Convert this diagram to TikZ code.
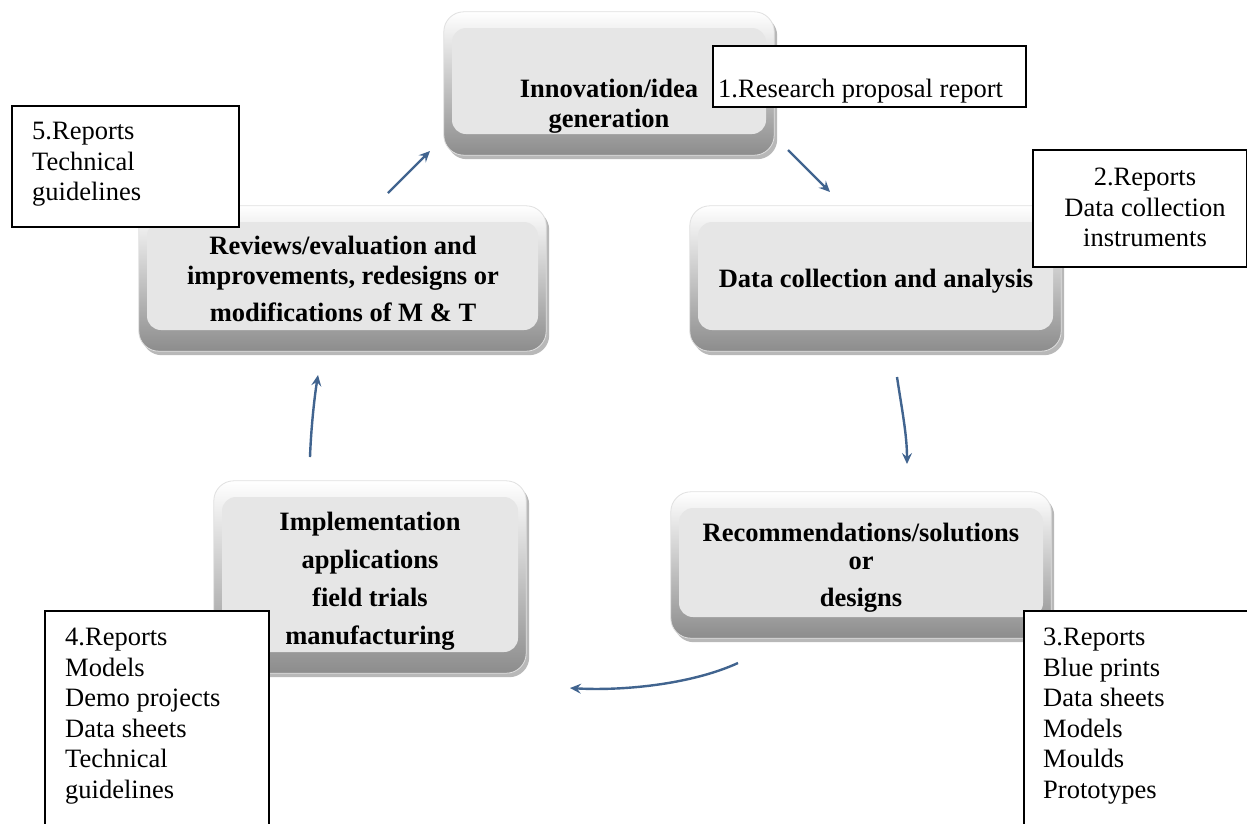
\documentclass[tikz,border=0pt]{standalone}
\usepackage{fontspec}
\setmainfont{Liberation Serif}
\usetikzlibrary{arrows.meta,fit,backgrounds}
\definecolor{arrowblue}{HTML}{41648F}
\definecolor{facegray}{HTML}{E6E6E6}
\newcommand{\rimfor}[1]{%
  \begin{pgfonlayer}{background}
    \fill[black!28, rounded corners=20pt] ([shift={(-5,-12)}]#1.north west) rectangle ([shift={(11,25)}]#1.south east);
    \shade[rounded corners=20pt, top color=white, bottom color=black!45, draw=black!12, line width=0.8pt]
      ([shift={(-8,-16)}]#1.north west) rectangle ([shift={(8,21)}]#1.south east);
  \end{pgfonlayer}}
\begin{document}
\begin{tikzpicture}[x=1pt,y=-1pt,
  face/.style={inner sep=0pt, rounded corners=14pt, fill=facegray},
  boxtxt/.style={font=\fontsize{26.5}{30}\selectfont\bfseries, align=center, inner sep=0pt},
  lbltxt/.style={font=\fontsize{26.5}{30.5}\selectfont, align=left, inner sep=0pt},
  lblbox/.style={draw=black, line width=1.6pt, fill=white, anchor=north west, inner sep=0pt},
  flow/.style={draw=arrowblue, line width=2.4pt, -{Stealth[length=11pt,width=10pt,inset=4pt]}}
]
\useasboundingbox (0,0) rectangle (1247,823);
\begin{pgfonlayer}{background}
  \fill[white] (0,0) rectangle (1247,823);
\end{pgfonlayer}
\clip (0,0) rectangle (1247,823);

% gray process boxes
\node[face, fit={(452,28) (766,134)}] (inn) {};
\rimfor{inn}
\node[face, fit={(147,222) (538,330)}] (rev) {};
\rimfor{rev}
\node[face, fit={(698,222) (1053,330)}] (dat) {};
\rimfor{dat}
\node[face, fit={(679,508) (1043,617)}] (rec) {};
\rimfor{rec}
\node[face, fit={(222,497) (518,652)}] (imp) {};
\rimfor{imp}

% box texts
\node[boxtxt, anchor=north] (innT) at (609,79) {Innovation/idea\\generation};
\node[boxtxt, anchor=north] (revT) at (343,236) {Reviews/evaluation and\\improvements, redesigns or\\[7pt]modifications of M \& T};
\node[boxtxt, anchor=base] (datT) at (876,287) {Data collection and analysis};
\node[boxtxt, anchor=north] (recT) at (861,523) {Recommendations/solutions\\[-2pt]or\\[7pt]designs};
\node[boxtxt, anchor=north, font=\fontsize{26.5}{38}\selectfont\bfseries] (impT) at (370,512) {Implementation\\applications\\field trials\\manufacturing};

% arrows
\coordinate (a1s) at (388,193); \coordinate (a1e) at (430,151);
\coordinate (a2s) at (788,150); \coordinate (a2e) at (830,192);
\coordinate (a3s) at (897,377); \coordinate (a3e) at (907,464);
\coordinate (a4s) at (738,663); \coordinate (a4e) at (570,688);
\coordinate (a5s) at (310,457); \coordinate (a5e) at (318,375);
\draw[flow] (a1s) -- (a1e);
\draw[flow] (a2s) -- (a2e);
\draw[flow] (a3s) .. controls (902,410) and (907,435) .. (a3e);
\draw[flow] (a4s) .. controls (690,685) and (620,691) .. (a4e);
\draw[flow] (a5s) .. controls (311,430) and (314,400) .. (a5e);

% output labels
\node[lblbox, minimum width=313pt, minimum height=61pt] (l1) at (712,45) {};
\node[lbltxt, anchor=base west] (l1t) at (718,97) {1.Research proposal report};
\node[lblbox, minimum width=214pt, minimum height=117pt] (l2) at (1032,149) {};
\node[lbltxt, align=center, anchor=north] (l2t) at (1145,168) {2.Reports\\Data collection\\instruments};
\node[lblbox, minimum width=260pt, minimum height=240pt] (l3) at (1023,610) {};
\node[lbltxt, anchor=north west] (l3t) at (1043,628) {3.Reports\\Blue prints\\Data sheets\\Models\\Moulds\\Prototypes};
\node[lblbox, minimum width=224pt, minimum height=240pt] (l4) at (44,610) {};
\node[lbltxt, anchor=north west] (l4t) at (65,628) {4.Reports\\Models\\Demo projects\\Data sheets\\Technical\\guidelines};
\node[lblbox, minimum width=227pt, minimum height=121pt] (l5) at (11,105) {};
\node[lbltxt, anchor=north west] (l5t) at (32,122) {5.Reports\\Technical\\guidelines};
\end{tikzpicture}
\end{document}
